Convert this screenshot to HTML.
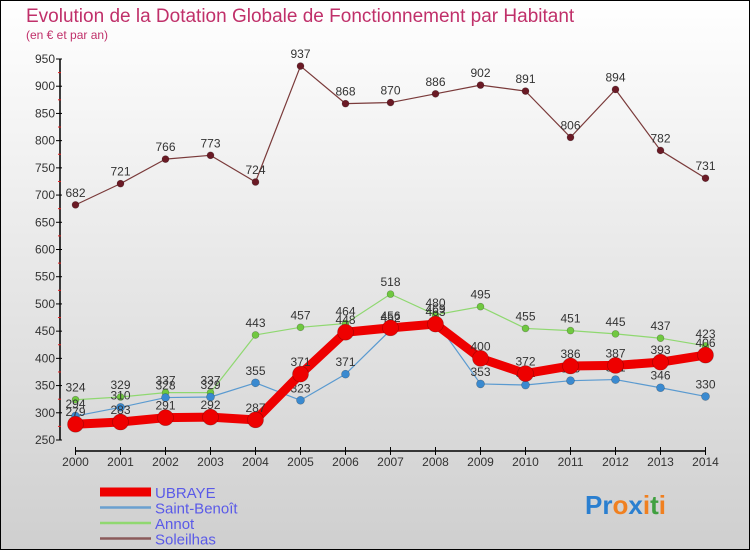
<!DOCTYPE html>
<html><head><meta charset="utf-8"><style>
html,body{margin:0;padding:0}
body{width:750px;height:550px;overflow:hidden;font-family:"Liberation Sans",sans-serif}
svg text{font-family:"Liberation Sans",sans-serif}
</style></head><body>
<svg id="chart" width="750" height="550" xmlns="http://www.w3.org/2000/svg">
<defs><linearGradient id="bg" x1="0" y1="0" x2="0" y2="1"><stop offset="0" stop-color="#ffffff"/><stop offset="1" stop-color="#cfcfcf"/></linearGradient></defs>
<rect x="0.5" y="0.5" width="749" height="549" fill="url(#bg)" stroke="#000"/>
<text x="26" y="22" font-size="19" fill="#c0306a">Evolution de la Dotation Globale de Fonctionnement par Habitant</text>
<text x="26" y="39" font-size="12" fill="#c0306a">(en € et par an)</text>
<g id="axes"></g>
<g id="series"></g>
<g id="legend"></g>
<text x="585" y="514" font-size="26" font-weight="bold"><tspan fill="#2a7fd0">Pr</tspan><tspan fill="#f08020">o</tspan><tspan fill="#2a7fd0">x</tspan><tspan fill="#f08020">i</tspan><tspan fill="#40a040">t</tspan><tspan fill="#f08020">i</tspan></text>
</svg>
<script>
const years = [2000,2001,2002,2003,2004,2005,2006,2007,2008,2009,2010,2011,2012,2013,2014];
const ubraye = [279,283,291,292,287,371,448,456,463,400,372,386,387,393,406];
const saintBenoit = [294,310,328,329,355,323,371,452,469,353,351,359,361,346,330];
const annot = [324,329,337,337,443,457,464,518,480,495,455,451,445,437,423];
const soleilhas = [682,721,766,773,724,937,868,870,886,902,891,806,894,782,731];
const yTicks = [250,300,350,400,450,500,550,600,650,700,750,800,850,900,950];
const seriesNames = ["UBRAYE","Saint-Benoît","Annot","Soleilhas"];

const NS="http://www.w3.org/2000/svg";
const x = i => 75.5 + i*(705.5-75.5)/(years.length-1);
const y = v => 440 - (v-250)*(440-59)/700;
function mk(tag, attrs, parent){const e=document.createElementNS(NS,tag);for(const k in attrs)e.setAttribute(k,attrs[k]);parent.appendChild(e);return e;}
const axes=document.getElementById('axes');
let yl=mk('line',{x1:60,y1:y(950),x2:60,y2:y(250),stroke:'#000','stroke-width':1.5},axes);


yTicks.forEach(t=>{
  let tk=mk('line',{x1:56,y1:y(t),x2:62,y2:y(t),stroke:'#000'},axes);
  
  
  if(t<950){let m=mk('line',{x1:58,y1:y(t+25),x2:61,y2:y(t+25),stroke:'#e02020'},axes);
  
  }
  let tx=mk('text',{x:55,y:y(t)+4,'font-size':12,'text-anchor':'end',fill:'#333'},axes);
  
  
  tx.textContent=t;
});
let xl=mk('line',{x1:75,y1:451,x2:706,y2:451,stroke:'#000','stroke-width':1.5},axes);


years.forEach((yr,i)=>{
  let tk=mk('line',{x1:x(i),y1:447,x2:x(i),y2:455,stroke:'#000'},axes);
  
  
  let tx=mk('text',{x:x(i),y:466,'font-size':12,'text-anchor':'middle',fill:'#333'},axes);
  
  
  tx.textContent=yr;
});
const sg=document.getElementById('series');
const defs=[
 {d:soleilhas,c:'#7a3a3a',w:1.2,r:3.5,f:'#6a1a25',n:'soleilhas'},
 {d:annot,c:'#8fd870',w:1.2,r:3.5,f:'#70c840',n:'annot'},
 {d:saintBenoit,c:'#5a9ad0',w:1.2,r:4,f:'#3a8ad0',n:'saint-benoit'},
 {d:ubraye,c:'#ee0000',w:9,r:8,f:'#ee0000',n:'ubraye'}
];
defs.forEach(s=>{
  const g=mk('g',{},sg);
  
  
  let p=mk('polyline',{points:s.d.map((v,i)=>x(i)+','+y(v)).join(' '),fill:'none',stroke:s.c,'stroke-width':s.w,'stroke-linejoin':'round'},g);
  
  
  s.d.forEach((v,i)=>{
    let c=mk('circle',{cx:x(i),cy:y(v),r:s.r,fill:s.f,stroke:'rgba(0,0,0,0.3)','stroke-width':0.6},g);
    
    
    let t=mk('text',{x:x(i),y:y(v)-8,'font-size':12,'text-anchor':'middle',fill:'#333'},g);
    
    
    t.textContent=v;
  });
});
const lg=document.getElementById('legend');
const lc=[['#ee0000',9],['#6aa0d0',2.5],['#90d870',2.5],['#8a5a5a',2.5]];
seriesNames.forEach((n,i)=>{
  const yy=492+i*15.5;
  let l=mk('line',{x1:100,y1:yy,x2:151,y2:yy,stroke:lc[i][0],'stroke-width':lc[i][1]},lg);
  
  
  let t=mk('text',{x:155,y:yy+6,'font-size':15,fill:'#5a5ae8'},lg);
  
  
  t.textContent=n;
});
</script>
</body></html>
